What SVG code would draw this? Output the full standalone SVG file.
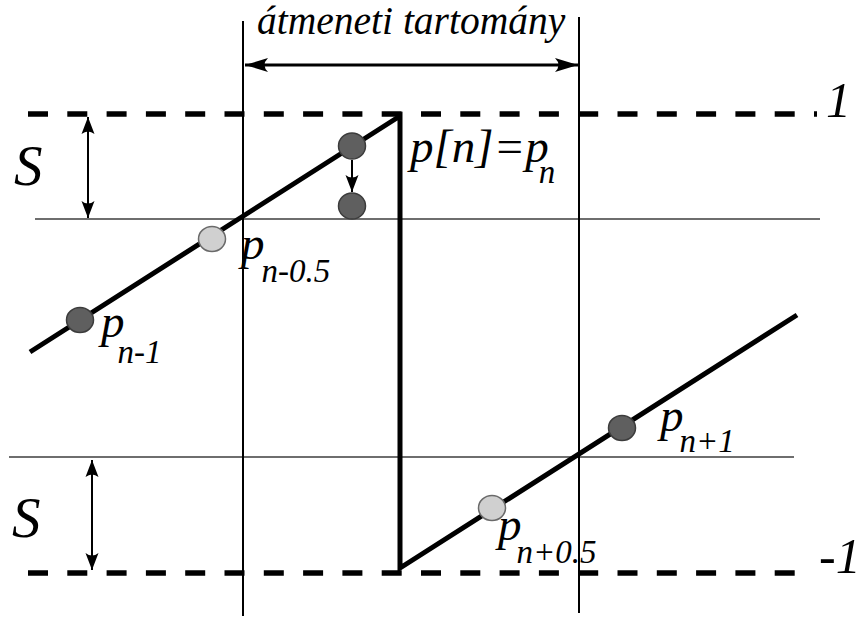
<svg xmlns="http://www.w3.org/2000/svg" width="861" height="619" viewBox="0 0 861 619">
<style>
text { font-family: 'Liberation Serif', 'Times New Roman', serif; font-style: italic; fill: #000; }
.main { font-size: 47px; }
.sub { font-size: 33px; }
.big { font-size: 57px; }
.lvl { font-size: 50px; }
.title { font-size: 39.5px; }
.dash { stroke: #000; stroke-width: 5.5; stroke-dasharray: 20 19.3; fill: none; }
.thin { stroke: #000; stroke-width: 2; fill: none; }
.gray { stroke: #6e6e6e; stroke-width: 2; fill: none; }
.saw { stroke: #000; stroke-width: 5; fill: none; stroke-linejoin: miter; }
.dark { fill: #5f5f5f; stroke: #3c3c3c; stroke-width: 1.5; }
.light { fill: #d0d0d0; stroke: #6a6a6a; stroke-width: 1.5; }
.arrw { stroke: #000; stroke-width: 3; fill: none; marker-end: url(#ahw); marker-start: url(#ahw); }
.arr { stroke: #000; stroke-width: 2; fill: none; marker-end: url(#ah); marker-start: url(#ah); }
.arr1 { stroke: #000; stroke-width: 2; fill: none; marker-end: url(#ah); }
</style>
<defs>
<marker id="ah" viewBox="-20 -8 22 16" refX="0" refY="0" markerWidth="22" markerHeight="16" markerUnits="userSpaceOnUse" orient="auto-start-reverse">
<path d="M0,0 L-17,-6.5 Q-12,0 -17,6.5 Z" fill="#000"/>
</marker>
<marker id="ahw" viewBox="-26 -8 28 16" refX="0" refY="0" markerWidth="28" markerHeight="16" markerUnits="userSpaceOnUse" orient="auto-start-reverse">
<path d="M0,0 L-23,-7 Q-16,0 -23,7 Z" fill="#000"/>
</marker>
</defs>

<g id="grid">
<line class="dash" x1="28" y1="114" x2="817" y2="114"/>
<line class="dash" x1="28" y1="573" x2="795" y2="573"/>
<line class="gray" x1="35" y1="219" x2="820" y2="219"/>
<line class="gray" x1="9" y1="457" x2="794" y2="457"/>
<line class="thin" x1="243" y1="21" x2="243" y2="616"/>
<line class="thin" x1="579" y1="17" x2="579" y2="613"/>
</g>

<g id="sawtooth">
<polyline class="saw" points="30,352 400,116 400,568 797,315"/>
</g>

<g id="connectors">
<line class="arrw" x1="245" y1="65" x2="578" y2="65"/>
<line class="arr" x1="88" y1="117" x2="88" y2="218"/>
<line class="arr" x1="92" y1="460" x2="92" y2="570"/>
<line class="arr1" x1="352" y1="160" x2="352" y2="192"/>
</g>

<g id="node-pn1m"><ellipse class="dark" cx="80" cy="320" rx="13.5" ry="12.5"/></g>
<g id="node-pn05m"><ellipse class="light" cx="212" cy="239" rx="13.5" ry="12.5"/></g>
<g id="node-pn"><ellipse class="dark" cx="352" cy="146" rx="13.5" ry="13"/></g>
<g id="node-pn-q"><ellipse class="dark" cx="352" cy="206" rx="13.5" ry="13"/></g>
<g id="node-pn05p"><ellipse class="light" cx="492" cy="508" rx="13.5" ry="12.5"/></g>
<g id="node-pn1p"><ellipse class="dark" cx="622" cy="428" rx="13.5" ry="12.5"/></g>

<g id="labels">
<text class="title" x="257" y="34">átmeneti tartomány</text>
<text class="big" x="14" y="185">S</text>
<text class="big" x="12" y="537">S</text>
<text class="lvl" x="826" y="117">1</text>
<text class="lvl" x="819" y="573">-1</text>
<text x="410" y="162"><tspan class="main">p[n]=p</tspan><tspan class="sub" dx="-10" dy="21">n</tspan></text>
<text x="241" y="259"><tspan class="main">p</tspan><tspan class="sub" dx="-3" dy="23">n-0.5</tspan></text>
<text x="101" y="337"><tspan class="main">p</tspan><tspan class="sub" dx="-7" dy="26">n-1</tspan></text>
<text x="660" y="431"><tspan class="main">p</tspan><tspan class="sub" dx="-4" dy="21">n+1</tspan></text>
<text x="498" y="540"><tspan class="main">p</tspan><tspan class="sub" dx="-5" dy="23">n+0.5</tspan></text>
</g>
</svg>
